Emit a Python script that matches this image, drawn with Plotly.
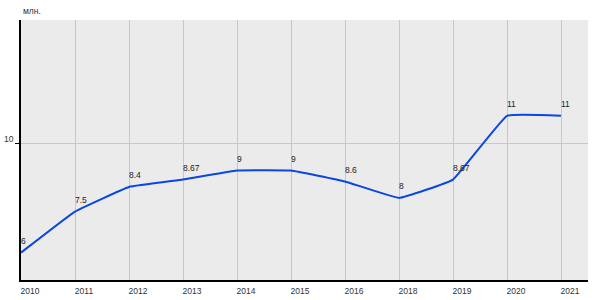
import plotly.graph_objects as go

years = ["2010", "2011", "2012", "2013", "2014", "2015", "2016", "2018", "2019", "2020", "2021"]
values = [6, 7.5, 8.4, 8.67, 9, 9, 8.6, 8, 8.67, 11, 11]
value_labels = ["6", "7.5", "8.4", "8.67", "9", "9", "8.6", "8", "8.67", "11", "11"]
y_ticks = [10]
unit_label = "млн."

y_range = [5, 14.5]
label_lift = 0.25  # data-label offset above the line, in value units

xs = list(range(len(years)))

fig = go.Figure()
fig.add_trace(go.Scatter(
    x=xs, y=values,
    mode="lines",
    line=dict(color="#0a46e0", width=2, shape="spline", smoothing=0.25),
    hoverinfo="skip",
))
fig.add_trace(go.Scatter(
    x=xs, y=values,
    yaxis="y2",
    mode="text",
    text=value_labels,
    textposition="top right",
    textfont=dict(family="Liberation Sans", size=8.5, color="#222222"),
    cliponaxis=False,
    hoverinfo="skip",
))

fig.update_layout(
    width=600, height=300,
    margin=dict(l=21, r=12, t=20, b=20),
    paper_bgcolor="white",
    plot_bgcolor="#ebebeb",
    showlegend=False,
    font=dict(family="Liberation Sans", size=8.5, color="#333333"),
    annotations=[dict(
        text=unit_label, xref="paper", yref="paper", x=0, y=1,
        xanchor="left", yanchor="bottom", yshift=2, showarrow=False,
        font=dict(family="Liberation Sans", size=8.5, color="#333333"),
    )],
    yaxis2=dict(
        overlaying="y", range=[y_range[0] - label_lift, y_range[1] - label_lift],
        visible=False, showgrid=False, zeroline=False,
    ),
)
fig.update_xaxes(
    range=[0, 10.5], automargin=False,
    tickmode="array", tickvals=xs, ticktext=years,
    showgrid=True, gridcolor="#c8c8c8", gridwidth=1,
    showline=True, linecolor="black", linewidth=1.5,
    ticks="", zeroline=False,
    ticklabelshift=9, ticklabelstandoff=2,
)
fig.update_layout(yaxis=dict(
    range=y_range, automargin=False,
    tickmode="array", tickvals=y_ticks,
    showgrid=True, gridcolor="#c8c8c8", gridwidth=1,
    showline=True, linecolor="black", linewidth=1.5,
    ticks="outside", ticklen=4, tickcolor="black",
    zeroline=False,
    ticklabelshift=-4, ticklabelstandoff=0,
))

fig.write_html("out.html")
